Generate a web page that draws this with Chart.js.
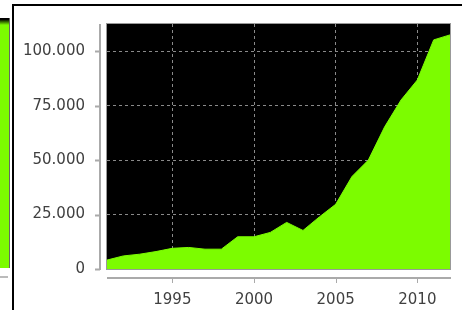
<!DOCTYPE html>
<html>
<head>
<meta charset="utf-8">
<script src="https://cdn.jsdelivr.net/npm/chart.js@4"></script>
<style>
  html, body { margin: 0; padding: 0; background: #fff; }
  #wrap { position: relative; width: 462px; height: 310px; overflow: hidden; }
  #chart { position: absolute; left: 0; top: 0; }
  /* neighbour panel that is cut off on the left */
  #leftPanel { position: absolute; left: 0; top: 18px; width: 9px; height: 250px; background: #7cfc00; border-right: 1px solid #666; }
  #leftPanelTop { position: absolute; left: 0; top: 18px; width: 9px; height: 7px; background: linear-gradient(to bottom, #000 20%, #7cfc00); }
  #leftAxis { position: absolute; left: 0; top: 276px; width: 8px; height: 2px; background: #bbb; }
  #vLine { position: absolute; left: 12px; top: 4px; width: 2px; height: 306px; background: #000; }
  #hLine { position: absolute; left: 12px; top: 4px; width: 450px; height: 2px; background: #000; }
</style>
</head>
<body>
<div id="wrap">
  <canvas id="chart" width="462" height="310"></canvas>
  <div id="leftPanel"></div>
  <div id="leftPanelTop"></div>
  <div id="leftAxis"></div>
  <div id="vLine"></div>
  <div id="hLine"></div>
</div>
<script>
// Data
const years = [1991, 1992, 1993, 1994, 1995, 1996, 1997, 1998, 1999, 2000, 2001,
               2002, 2003, 2004, 2005, 2006, 2007, 2008, 2009, 2010, 2011, 2012];
const values = [4100, 6000, 6800, 8000, 9500, 9900, 9100, 9100, 14800, 14800, 16800,
                21400, 17700, 23900, 29700, 42500, 50000, 65300, 77600, 86800, 105200, 107500];
const xTicks = [1995, 2000, 2005, 2010];
const yTicks = [0, 25000, 50000, 75000, 100000];

const points = years.map((y, i) => ({ x: y, y: values[i] }));

// Format numbers with a dot as thousands separator
function formatDots(v) {
    return String(v).replace(/\B(?=(\d{3})+(?!\d))/g, '.');
}

// Black plot background
const plotBackground = {
    id: 'plotBackground',
    beforeDraw(chart) {
        const { ctx, chartArea: a } = chart;
        ctx.save();
        ctx.fillStyle = '#000';
        ctx.fillRect(a.left, a.top, a.right - a.left, a.bottom - a.top);
        ctx.restore();
    }
};

// Plot frame and the detached axis lines
const axesFrame = {
    id: 'axesFrame',
    afterDatasetsDraw(chart) {
        const { ctx, chartArea: a, scales } = chart;
        ctx.save();
        ctx.strokeStyle = '#999';
        ctx.lineWidth = 1;
        ctx.strokeRect(a.left - 0.5, a.top - 0.5, a.right - a.left + 1, a.bottom - a.top + 1);

        ctx.strokeStyle = '#aaa';
        ctx.lineWidth = 2;
        // y axis
        const ax = a.left - 7;
        ctx.beginPath();
        ctx.moveTo(ax, a.top);
        ctx.lineTo(ax, a.bottom + 1);
        yTicks.forEach(v => {
            const py = Math.round(scales.y.getPixelForValue(v)) + 0.5;
            ctx.moveTo(ax - 5, py);
            ctx.lineTo(ax, py);
        });
        ctx.stroke();
        // x axis
        const ay = a.bottom + 9;
        ctx.beginPath();
        ctx.moveTo(a.left, ay);
        ctx.lineTo(a.right + 1, ay);
        ctx.stroke();
        ctx.lineWidth = 1;
        ctx.beginPath();
        xTicks.forEach(v => {
            const px = Math.round(scales.x.getPixelForValue(v)) + 0.5;
            ctx.moveTo(px, ay);
            ctx.lineTo(px, ay + 5);
        });
        ctx.stroke();
        ctx.restore();
    }
};

const ctx = document.getElementById('chart').getContext('2d');
new Chart(ctx, {
    type: 'line',
    data: {
        datasets: [{
            data: points,
            fill: 'origin',
            backgroundColor: '#7cfc00',
            borderColor: '#7cfc00',
            borderWidth: 1,
            pointRadius: 0,
            tension: 0
        }]
    },
    options: {
        responsive: false,
        animation: false,
        layout: { padding: { left: 0, right: 12, top: 24, bottom: 0 } },
        plugins: {
            legend: { display: false },
            tooltip: { enabled: false }
        },
        scales: {
            x: {
                type: 'linear',
                min: 1991,
                max: 2012,
                afterBuildTicks: scale => { scale.ticks = xTicks.map(v => ({ value: v })); },
                afterFit: scale => {
                    scale.height = 41;
                    scale.paddingLeft = 0;
                    scale.paddingRight = 0;
                },
                border: { display: false, dash: [3, 3] },
                grid: { color: '#8a8a8a', drawTicks: false },
                ticks: {
                    padding: 22,
                    color: '#404040',
                    font: { family: 'DejaVu Sans', size: 15 },
                    callback: v => String(v)
                }
            },
            y: {
                min: 0,
                max: 112500,
                afterBuildTicks: scale => { scale.ticks = yTicks.map(v => ({ value: v })); },
                afterFit: scale => {
                    scale.width = 107;
                    scale.paddingTop = 0;
                    scale.paddingBottom = 0;
                },
                border: { display: false, dash: [3, 3] },
                grid: { color: '#8a8a8a', drawTicks: false },
                ticks: {
                    padding: 22,
                    color: '#404040',
                    font: { family: 'DejaVu Sans', size: 15 },
                    callback: v => formatDots(v)
                }
            }
        }
    },
    plugins: [plotBackground, axesFrame]
});
</script>
</body>
</html>
